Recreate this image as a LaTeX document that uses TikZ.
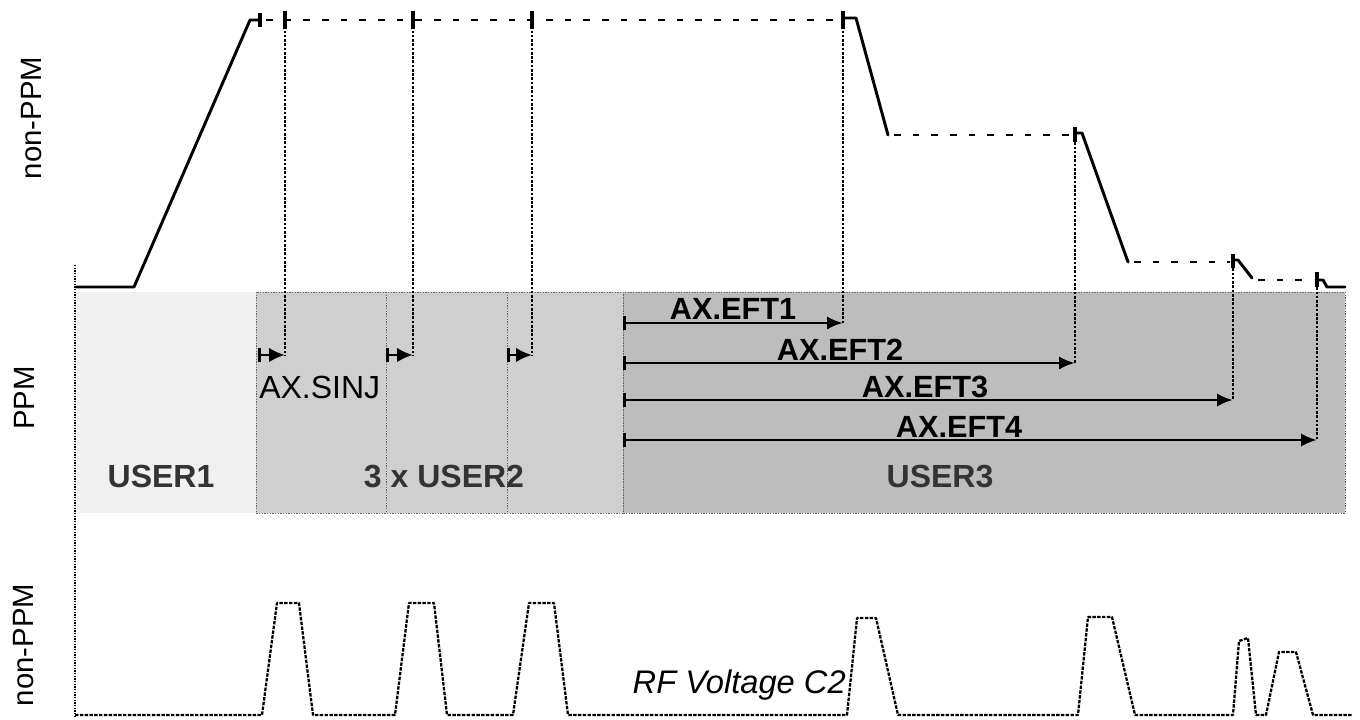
\documentclass[tikz,border=0pt]{standalone}
\usepackage{fontspec}
\setmainfont{Liberation Sans}
\usetikzlibrary{arrows.meta}
\begin{document}
\begin{tikzpicture}[x=0.75pt,y=-0.75pt,
  sig/.style={line width=2.2pt, line join=round, line cap=round},
  flatdash/.style={line width=1.4pt, dash pattern=on 5pt off 9pt},
  tickbar/.style={line width=2.6pt},
  drop/.style={line width=1.1pt, dash pattern=on 2pt off 1.2pt},
  axisdot/.style={line width=0.9pt, dash pattern=on 1pt off 1pt},
  rf/.style={line width=1.7pt, dash pattern=on 2.6pt off 1pt, line join=round},
  lbl/.style={font=\fontsize{24}{28}\selectfont, inner sep=0pt},
  sidelbl/.style={font=\fontsize{22}{26}\selectfont, inner sep=0pt},
  eftlbl/.style={font=\fontsize{23}{27}\selectfont\bfseries, inner sep=0pt},
  userlbl/.style={font=\fontsize{24}{28}\selectfont\bfseries, inner sep=0pt, text=black!80},
  eftarrow/.style={line width=2.2pt, {Bar[width=11pt,line width=2pt]}-{Latex[length=12pt,width=10pt]}},
  sinjarrow/.style={line width=2.2pt, {Bar[width=11pt,line width=2pt]}-{Latex[length=12pt,width=11pt]}},
  band/.style={draw=black!60, line width=0.6pt, dash pattern=on 1pt off 1pt}
]
\useasboundingbox (0,0) rectangle (1360,720);

% PPM band regions
\fill[gray!12] (75,292) rectangle (256,513);
\fill[gray!38] (256,292) rectangle (623,513);
\fill[gray!52] (623,292) rectangle (1345,513);
\draw[band] (256,292) rectangle (623,513);
\draw[band] (386,292) -- (386,513);
\draw[band] (507,292) -- (507,513);
\draw[band] (623,292) rectangle (1345,513);

% axis
\draw[axisdot] (75,265) -- (75,718);

% top non-PPM signal
\draw[sig] (76,287) -- (134,287) -- (250,20) -- (260,20);
\draw[tickbar] (260,13) -- (260,27);
\draw[flatdash] (266,20) -- (840,20);
\foreach \x in {285,413,532} \draw[tickbar] (\x,11) -- (\x,29);
\draw[tickbar] (843,11) -- (843,29);
\draw[sig] (843,18) -- (856,18) -- (888,135);
\draw[flatdash] (894,135) -- (1072,135);
\draw[tickbar] (1075,127) -- (1075,142);
\draw[sig] (1075,133) -- (1082,133) -- (1128,262);
\draw[flatdash] (1134,262) -- (1230,262);
\draw[tickbar] (1233,254) -- (1233,268);
\draw[sig] (1233,260) -- (1238,260) -- (1252,278);
\draw[flatdash] (1258,280) -- (1314,280);
\draw[tickbar] (1317,272) -- (1317,287);
\draw[sig] (1317,280) -- (1323,280) -- (1327,287) -- (1345,287);

% named coordinates for timing arrows
\coordinate (s1a) at (258,355); \coordinate (s1b) at (285,355);
\coordinate (s2a) at (386,355); \coordinate (s2b) at (413,355);
\coordinate (s3a) at (507,355); \coordinate (s3b) at (532,355);
\coordinate (e1a) at (623,323); \coordinate (e1b) at (843,323);
\coordinate (e2a) at (623,363); \coordinate (e2b) at (1075,363);
\coordinate (e3a) at (623,400); \coordinate (e3b) at (1233,400);
\coordinate (e4a) at (623,440); \coordinate (e4b) at (1317,440);

% drop lines
\draw[drop] (285,22) -- (s1b);
\draw[drop] (413,22) -- (s2b);
\draw[drop] (532,22) -- (s3b);
\draw[drop] (843,22) -- (e1b);
\draw[drop] (1075,138) -- (e2b);
\draw[drop] (1233,264) -- (e3b);
\draw[drop] (1317,283) -- (e4b);

% arrows
\draw[sinjarrow] (s1a) -- (s1b);
\draw[sinjarrow] (s2a) -- (s2b);
\draw[sinjarrow] (s3a) -- (s3b);
\draw[eftarrow] (e1a) -- (e1b);
\draw[eftarrow] (e2a) -- (e2b);
\draw[eftarrow] (e3a) -- (e3b);
\draw[eftarrow] (e4a) -- (e4b);

% labels
\node[lbl, anchor=base west] (sinj) at (259,398) {AX.SINJ};
\node[eftlbl, anchor=base] (eft1) at (733,320) {AX.EFT1};
\node[eftlbl, anchor=base] (eft2) at (840,360) {AX.EFT2};
\node[eftlbl, anchor=base] (eft3) at (925,397) {AX.EFT3};
\node[eftlbl, anchor=base] (eft4) at (959,437) {AX.EFT4};
\node[userlbl, anchor=base] (u1) at (161,487) {USER1};
\node[userlbl, anchor=base] (u2) at (444,487) {3 x USER2};
\node[userlbl, anchor=base] (u3) at (940,487) {USER3};

\node[sidelbl, rotate=90] (np1) at (32,118) {non-PPM};
\node[sidelbl, rotate=90] (ppm) at (24,398) {PPM};
\node[sidelbl, rotate=90] (np2) at (24,645) {non-PPM};

% RF voltage trace
\draw[rf] (75,715) -- (262,715) -- (277,603) -- (299,603) -- (313,715)
  -- (395,715) -- (409,603) -- (434,603) -- (447,715)
  -- (513,715) -- (529,603) -- (554,603) -- (568,715)
  -- (847,715) -- (857,618) -- (876,618) -- (898,715)
  -- (1078,715) -- (1088,617) -- (1112,617) -- (1135,715)
  -- (1233,715) -- (1239,641) -- (1248,638) -- (1256,715)
  -- (1266,715) -- (1279,652) -- (1296,652) -- (1313,715) -- (1353,715);
\node[lbl, font=\fontsize{24.5}{28}\selectfont\itshape, anchor=base east] (rfv) at (846,693) {RF Voltage C2};
\end{tikzpicture}
\end{document}
